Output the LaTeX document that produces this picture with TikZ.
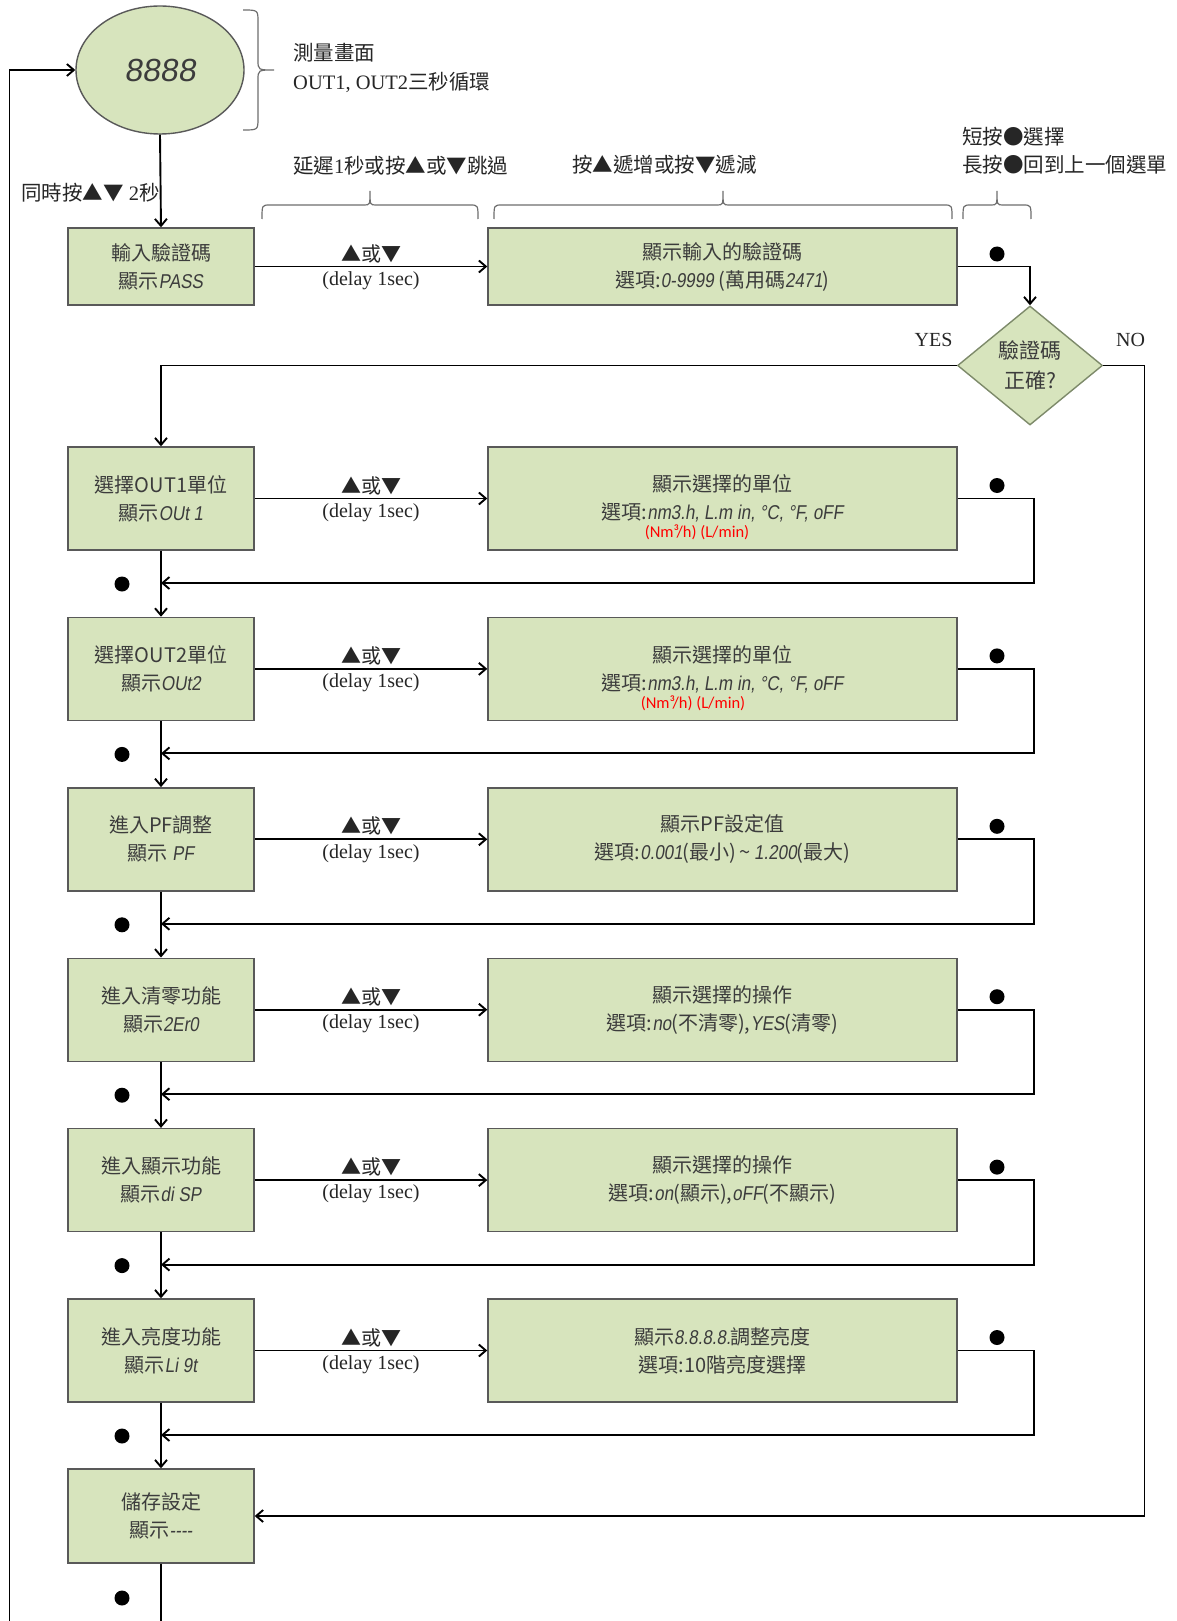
\documentclass[tikz,border=0pt]{standalone}
\usepackage{fontspec}
\setmainfont{Liberation Serif}
\newfontfamily\cjk{Noto Sans CJK TC}
\newfontfamily\seg[FakeSlant=0.15,FakeStretch=0.85]{Liberation Sans}
\newfontfamily\segbig[FakeSlant=0.15]{Liberation Sans}
\newfontfamily\cali{Carlito}
\usetikzlibrary{arrows.meta,shapes.geometric}
\definecolor{boxfill}{HTML}{D7E4BD}
\definecolor{boxline}{HTML}{595959}
\definecolor{diaLine}{HTML}{7D8A6A}
\definecolor{txtc}{HTML}{3C3C3C}
\definecolor{annc}{HTML}{262626}
\definecolor{bracec}{HTML}{6E6E6E}
\tikzset{
  conn/.style={draw=black, line width=1.9pt},
  arr/.style={-{Straight Barb[length=7pt,width=12pt]}},
  lbox/.style={draw=boxline, fill=boxfill, line width=1.4pt, minimum width=186pt,
    minimum height=103pt, inner sep=0pt, align=center, text=txtc,
    font=\cjk\fontsize{20}{28}\selectfont},
  rbox/.style={lbox, minimum width=469pt},
  lab/.style={font=\cjk\fontsize{20}{24}\selectfont, inner sep=0pt, text=annc},
  dlab/.style={font=\rmfamily\fontsize{20}{24}\selectfont, inner sep=0pt, text=annc},
  ann/.style={font=\rmfamily\fontsize{20.5}{29}\selectfont, inner sep=0pt, anchor=west, text=annc},
  unitlab/.style={font=\cali\fontsize{16.5}{19}\selectfont, inner sep=0pt, text=red},
  dot/.style={circle, fill=black, inner sep=0pt, minimum size=15pt},
  bracepath/.style={draw=bracec, line width=1.2pt}
}
\begin{document}
\begin{tikzpicture}[x=1pt,y=-1pt]
\fill[white] (0,0) rectangle (1176,1621);
\useasboundingbox (0,0) rectangle (1176,1621);

% measuring screen
\node[ellipse, draw=boxline, fill=boxfill, line width=1.4pt, minimum width=168pt,
  minimum height=128pt, inner sep=0pt, text=txtc] (disp) at (160,70)
  {\segbig\fontsize{32}{32}\selectfont 8888};
\draw[bracepath] (243,10) .. controls (258,10) .. (258,22) -- (258,60)
  .. controls (258,70) .. (274,70) .. controls (258,70) .. (258,80) -- (258,118)
  .. controls (258,130) .. (243,130);
\node[ann] (t1) at (293,53) {\cjk 測量畫面};
\node[ann] (t2) at (293,82) {OUT1, OUT2{\cjk 三秒循環}};

% top braces and annotations
\draw[bracepath] (262,219) .. controls (262,205) .. (270,205) -- (364,205)
  .. controls (370,205) .. (370,191) .. controls (370,205) .. (376,205) -- (470,205)
  .. controls (478,205) .. (478,219);
\draw[bracepath] (494,219) .. controls (494,205) .. (502,205) -- (717,205)
  .. controls (723,205) .. (723,191) .. controls (723,205) .. (729,205) -- (944,205)
  .. controls (952,205) .. (952,219);
\draw[bracepath] (963,219) .. controls (963,205) .. (971,205) -- (991,205)
  .. controls (997,205) .. (997,191) .. controls (997,205) .. (1003,205) -- (1023,205)
  .. controls (1031,205) .. (1031,219);
\node[ann] (a1) at (293,166) {{\cjk 延遲}1{\cjk 秒或按▲或▼跳過}};
\node[ann] (a2) at (572,165) {\cjk 按▲遞增或按▼遞減};
\node[ann] (a3) at (962,137) {\cjk 短按●選擇};
\node[ann] (a4) at (962,165) {\cjk 長按●回到上一個選單};
\node[ann] (a5) at (21,193) {{\cjk 同時按▲▼} 2{\cjk 秒}};

% first row
\node[lbox, minimum height=77pt] (b0) at (161,266.5) {輸入驗證碼\\顯示{\seg PASS}};
\node[rbox, minimum height=77pt] (r0) at (722.5,266.5)
  {顯示輸入的驗證碼\\選項:{\seg 0-9999} (萬用碼{\seg 2471})};
\node[diamond, draw=diaLine, fill=boxfill, line width=1.4pt, minimum width=145pt,
  minimum height=119pt, aspect=1.22, inner sep=0pt, align=center, text=txtc,
  font=\cjk\fontsize{21}{30}\selectfont] (dia) at (1030,365.5) {驗證碼\\正確?};
\node[dot] (dr0) at (997,254) {};
\node[dlab, anchor=west] (yes) at (914.5,340) {YES};
\node[dlab, anchor=west] (no) at (1116,340) {NO};

% rows
\node[lbox] (b1) at (161,498.5) {選擇OUT1單位\\顯示{\seg OUt 1}};
\node[lbox] (b2) at (161,668.9) {選擇OUT2單位\\顯示{\seg OUt2}};
\node[lbox] (b3) at (161,839.3) {進入PF調整\\顯示 {\seg PF}};
\node[lbox] (b4) at (161,1009.7) {進入清零功能\\顯示{\seg 2Er0}};
\node[lbox] (b5) at (161,1180.1) {進入顯示功能\\顯示{\seg di SP}};
\node[lbox] (b6) at (161,1350.5) {進入亮度功能\\顯示{\seg Li 9t}};
\node[lbox, minimum height=94pt] (b7) at (161,1516) {儲存設定\\顯示{\seg ----}};

\node[rbox] (r1) at (722.5,498.5) {顯示選擇的單位\\選項:{\seg nm3.h, L.m in, °C, °F, oFF}};
\node[rbox] (r2) at (722.5,668.9) {顯示選擇的單位\\選項:{\seg nm3.h, L.m in, °C, °F, oFF}};
\node[rbox] (r3) at (722.5,839.3) {顯示PF設定值\\選項:{\seg 0.001}(最小)\,\textasciitilde\,{\seg 1.200}(最大)};
\node[rbox] (r4) at (722.5,1009.7) {顯示選擇的操作\\選項:{\seg no}(不清零),{\seg YES}(清零)};
\node[rbox] (r5) at (722.5,1180.1) {顯示選擇的操作\\選項:{\seg on}(顯示),{\seg oFF}(不顯示)};
\node[rbox] (r6) at (722.5,1350.5) {顯示{\seg 8.8.8.8.}調整亮度\\選項:10階亮度選擇};
\node[unitlab] (u1) at (697,532.5) {(Nm³/h) (L/min)};
\node[unitlab] (u2) at (693,702.9) {(Nm³/h) (L/min)};

% helper coordinates
\coordinate (rx) at (1034,0);
\coordinate (nox) at (1144.5,0);
\coordinate (ret1) at (161,583);
\coordinate (ret2) at (161,753.4);
\coordinate (ret3) at (161,923.8);
\coordinate (ret4) at (161,1094.2);
\coordinate (ret5) at (161,1264.6);
\coordinate (ret6) at (161,1435);
\coordinate (topL) at (9.5,70);
\coordinate (botL) at (9.5,1621);
\coordinate (botM) at (161,1621);

% connectors
\draw[conn, arr] (disp.south) -- (b0.north);
\draw[conn, arr] (botL) -- (topL) -- (disp.west);
\draw[conn, arr] (b0.east) -- node[lab, yshift=13pt] (l0a) {▲或▼}
  node[dlab, yshift=-14pt] (l0b) {(delay 1sec)} (r0.west);
\draw[conn, arr] (r0.east) -| (dia.north);
\draw[conn, arr] (dia.west) -| (b1.north);
\draw[conn, arr] (dia.east) -- (dia.east -| nox) -- (nox |- b7.east) -- (b7.east);

\foreach \i/\n in {1/2,2/3,3/4,4/5,5/6,6/7}{
  \draw[conn, arr] (b\i.east) -- node[lab, yshift=13pt] {▲或▼}
    node[dlab, yshift=-14pt] {(delay 1sec)} (r\i.west);
  \draw[conn, arr] (r\i.east) -- (r\i.east -| rx) -- (rx |- ret\i) -- (ret\i);
  \draw[conn, arr] (b\i.south) -- (b\n.north);
}
\draw[conn] (b7.south) -- (botM);

% dots
\node[dot] (dr1) at (997,485.5) {};
\node[dot] (dr2) at (997,655.9) {};
\node[dot] (dr3) at (997,826.3) {};
\node[dot] (dr4) at (997,996.7) {};
\node[dot] (dr5) at (997,1167.1) {};
\node[dot] (dr6) at (997,1337.5) {};
\node[dot] (dl1) at (122,584) {};
\node[dot] (dl2) at (122,754.4) {};
\node[dot] (dl3) at (122,924.8) {};
\node[dot] (dl4) at (122,1095.2) {};
\node[dot] (dl5) at (122,1265.6) {};
\node[dot] (dl6) at (122,1436) {};
\node[dot] (dl7) at (122,1598) {};
\end{tikzpicture}
\end{document}
